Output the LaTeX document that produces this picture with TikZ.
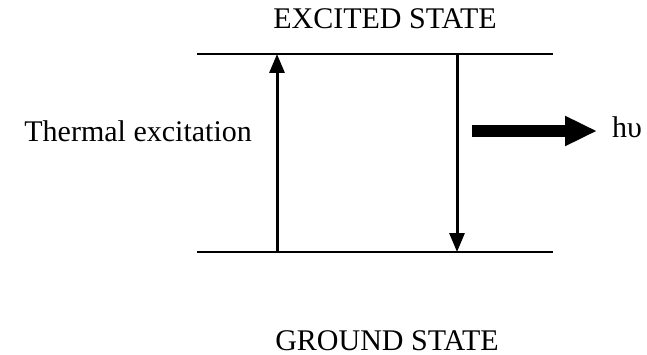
\documentclass[tikz,border=0pt]{standalone}
\usepackage{fontspec}
\setmainfont{Liberation Serif}
\usetikzlibrary{arrows.meta}
\tikzset{
  lbl/.style={inner sep=0pt, font=\fontsize{30}{36}\selectfont},
  level/.style={line width=1.8pt},
  trans/.style={line width=3pt, -{Triangle[length=19pt,width=15pt]}},
  emit/.style={line width=12pt, -{Triangle[length=32pt,width=28pt]}}
}
\begin{document}
\begin{tikzpicture}[x=1pt,y=-1pt]
\useasboundingbox (0,0) rectangle (647,355);
% levels
\coordinate (tl) at (197,54);
\coordinate (tr) at (553,54);
\coordinate (bl) at (197,252);
\coordinate (br) at (553,252);
\draw[level] (tl) -- (tr);
\draw[level] (bl) -- (br);
% transitions
\coordinate (ub) at (277,252);
\coordinate (ut) at (277,54);
\coordinate (dt) at (457,54);
\coordinate (db) at (457,252);
\draw[trans] (ub) -- (ut);
\draw[trans] (dt) -- (db);
% labels
\node[lbl, anchor=base] (exc) at (385,29) {EXCITED STATE};
\node[lbl, anchor=base] (gnd) at (387,350) {GROUND STATE};
\node[lbl, anchor=base east] (therm) at (252,142) {Thermal excitation};
\node[lbl, anchor=base west] (hv) at (612,138) {hυ};
% emission arrow
\coordinate (es) at (472,131);
\coordinate (ee) at (597,131);
\draw[emit] (es) -- (ee);
\end{tikzpicture}
\end{document}
